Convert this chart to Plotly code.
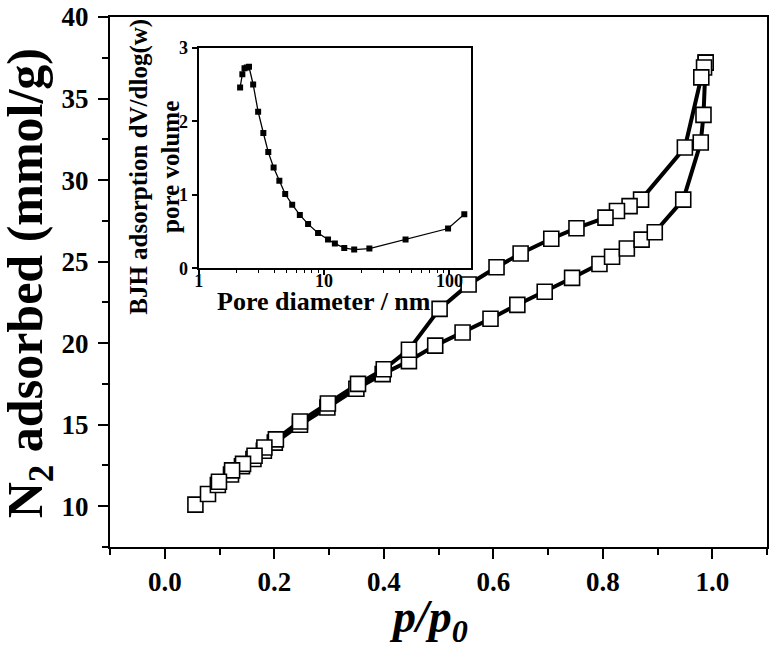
import plotly.graph_objects as go

# ---- main isotherm data (p/p0, N2 adsorbed mmol/g) ----
ads_p = [0.056, 0.079, 0.097, 0.121, 0.141, 0.162, 0.181, 0.201, 0.247, 0.297, 0.350, 0.398,
         0.446, 0.494, 0.544, 0.595, 0.644, 0.694, 0.744, 0.794, 0.817, 0.844, 0.871, 0.895,
         0.947, 0.979, 0.984, 0.988]
ads_v = [10.1, 10.75, 11.3, 11.95, 12.45, 12.9, 13.4, 13.9, 15.0, 16.05, 17.2, 18.1,
         18.9, 19.85, 20.65, 21.5, 22.35, 23.15, 24.0, 24.85, 25.3, 25.8, 26.35, 26.8,
         28.8, 32.3, 34.0, 37.2]

des_p = [0.988, 0.985, 0.980, 0.950, 0.870, 0.849, 0.826, 0.805, 0.752, 0.706, 0.650, 0.606,
         0.555, 0.502, 0.446, 0.400, 0.353, 0.298, 0.247, 0.203, 0.182, 0.164, 0.143, 0.123, 0.099]
des_v = [37.2, 36.9, 36.3, 32.0, 28.8, 28.4, 28.1, 27.7, 27.05, 26.4, 25.5, 24.65,
         23.6, 22.1, 19.6, 18.4, 17.5, 16.3, 15.2, 14.1, 13.6, 13.1, 12.6, 12.2, 11.5]

# ---- inset BJH pore size distribution ----
pore_d = [2.14, 2.23, 2.32, 2.42, 2.52, 2.72, 2.98, 3.28, 3.59, 3.96, 4.40, 4.90, 5.57, 6.41,
          7.46, 8.96, 10.76, 12.2, 14.5, 17.4, 23.0, 44.7, 97.6, 131.5]
pore_v = [2.46, 2.64, 2.72, 2.73, 2.74, 2.50, 2.13, 1.84, 1.58, 1.37, 1.19, 1.01, 0.865, 0.725,
          0.60, 0.48, 0.39, 0.335, 0.276, 0.254, 0.267, 0.39, 0.54, 0.734]

main_xticks = [0.0, 0.2, 0.4, 0.6, 0.8, 1.0]
main_xticklabels = ["0.0", "0.2", "0.4", "0.6", "0.8", "1.0"]
main_yticks = [10, 15, 20, 25, 30, 35, 40]
inset_xticks = [1, 10, 100]
inset_yticks = [0, 1, 2, 3]

FONT = "Liberation Serif"

fig = go.Figure()

# lines under all markers
fig.add_trace(go.Scatter(x=ads_p, y=ads_v, mode="lines", line=dict(color="black", width=4),
                         showlegend=False, hoverinfo="skip"))
fig.add_trace(go.Scatter(x=des_p, y=des_v, mode="lines", line=dict(color="black", width=4),
                         showlegend=False, hoverinfo="skip"))
fig.add_trace(go.Scatter(x=ads_p, y=ads_v, mode="markers",
                         marker=dict(symbol="square", size=15, color="white",
                                     line=dict(color="black", width=1.6)),
                         showlegend=False))
fig.add_trace(go.Scatter(x=des_p, y=des_v, mode="markers",
                         marker=dict(symbol="square", size=15, color="white",
                                     line=dict(color="black", width=1.6)),
                         showlegend=False))

# inset
fig.add_trace(go.Scatter(x=pore_d, y=pore_v, mode="lines+markers", xaxis="x2", yaxis="y2",
                         line=dict(color="black", width=1.3),
                         marker=dict(symbol="square", size=6, color="black"),
                         showlegend=False))

fig.update_layout(
    width=771, height=649,
    margin=dict(l=110, r=2, t=15, b=102),
    paper_bgcolor="white", plot_bgcolor="white",
    font=dict(family=FONT, color="black"),
    xaxis=dict(
        domain=[0, 1], range=[-0.1, 1.1],
        tickvals=main_xticks, ticktext=main_xticklabels,
        ticks="outside", ticklen=10, tickwidth=2, tickcolor="black",
        minor=dict(ticks="outside", ticklen=6, tickwidth=2, tickcolor="black", dtick=0.1, tick0=0),
        showline=True, linewidth=2, linecolor="black", mirror=True,
        showgrid=False, zeroline=False,
        tickfont=dict(family=FONT, size=27, color="black", weight="bold"),
    ),
    yaxis=dict(
        domain=[0, 1], range=[7.5, 40],
        tickvals=main_yticks,
        ticks="outside", ticklen=10, tickwidth=2, tickcolor="black",
        minor=dict(ticks="outside", ticklen=6, tickwidth=2, tickcolor="black", dtick=2.5, tick0=0),
        showline=True, linewidth=2, linecolor="black", mirror=True,
        showgrid=False, zeroline=False,
        tickfont=dict(family=FONT, size=27, color="black", weight="bold"),
        ticklabelstandoff=4,
    ),
    xaxis2=dict(
        domain=[0.135, 0.549], anchor="y2", type="log", range=[0, 2.17],
        tickvals=inset_xticks, ticktext=["1", "10", "100"],
        ticks="outside", ticklen=5, tickwidth=1.5, tickcolor="black",
        minor=dict(ticks="outside", ticklen=3, tickwidth=1.2, tickcolor="black",
                   tickvals=[2, 3, 4, 5, 6, 7, 8, 9, 20, 30, 40, 50, 60, 70, 80, 90]),
        showline=True, linewidth=2, linecolor="black", mirror=True,
        showgrid=False, zeroline=False,
        tickfont=dict(family=FONT, size=18, color="black", weight="bold"),
        ticklabelstandoff=-10,
    ),
    yaxis2=dict(
        domain=[0.526, 0.942], anchor="x2", range=[0, 3],
        tickvals=inset_yticks,
        ticks="outside", ticklen=5, tickwidth=1.5, tickcolor="black",
        showline=True, linewidth=2, linecolor="black", mirror=True,
        showgrid=False, zeroline=False,
        tickfont=dict(family=FONT, size=18, color="black", weight="bold"),
        ticklabelstandoff=0,
    ),
    annotations=[
        dict(text="N<sub>2</sub> adsorbed (mmol/g)", textangle=-90,
             xref="paper", yref="paper", x=-0.123, y=0.498,
             xanchor="center", yanchor="middle", showarrow=False,
             font=dict(family=FONT, size=50, color="black", weight="bold")),
        dict(text="p/p<sub>0</sub>",
             xref="paper", yref="paper", x=0.485, y=-0.08,
             xanchor="center", yanchor="top", showarrow=False,
             font=dict(family=FONT, size=46, color="black", weight="bold", style="italic")),
        dict(text="BJH adsorption dV/dlog(w)<br>pore volume", textangle=-90,
             xref="paper", yref="paper", x=0.069, y=0.718,
             xanchor="center", yanchor="middle", showarrow=False,
             font=dict(family=FONT, size=25, color="black", weight="bold")),
        dict(text="Pore diameter / nm",
             xref="paper", yref="paper", x=0.326, y=0.464,
             xanchor="center", yanchor="middle", showarrow=False,
             font=dict(family=FONT, size=26, color="black", weight="bold")),
    ],
)

fig.write_html("out.html", config={"displayModeBar": False},
               post_script="document.body.style.margin='0';document.body.style.overflow='hidden';")
